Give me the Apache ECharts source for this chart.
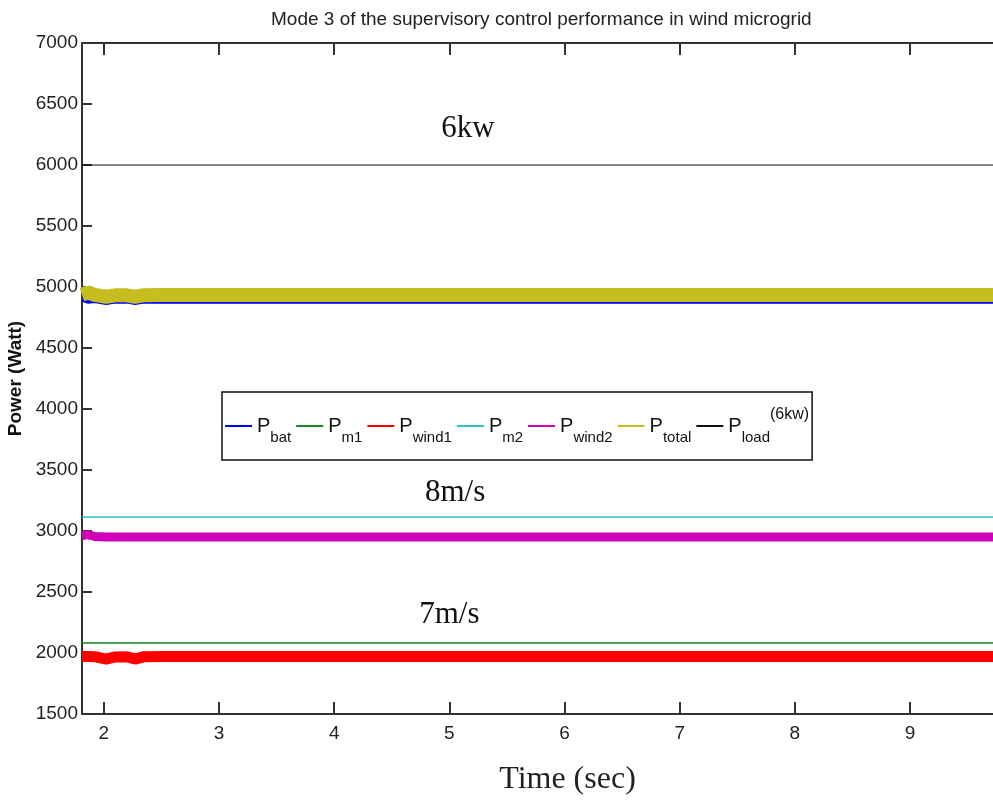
<!DOCTYPE html>
<html>
<head>
<meta charset="utf-8">
<script src="https://cdn.jsdelivr.net/npm/echarts@6/dist/echarts.min.js"></script>
<style>
  html, body { margin: 0; padding: 0; background: #fff; }
  #chart { width: 993px; height: 801px; }
</style>
</head>
<body>
<div id="chart"></div>
<script>
// Sample instants (s) at which each power trace is listed
const times = [1.81, 1.86, 1.92, 2.02, 2.1, 2.2, 2.27, 2.35, 2.5, 3, 4, 5, 6, 7, 8, 9, 9.72];

// Power traces (W)
const pBat   = [4895, 4880, 4885, 4868, 4880, 4880, 4868, 4880, 4880, 4880, 4880, 4880, 4880, 4880, 4880, 4880, 4880];
const pM1    = [2082, 2082, 2082, 2082, 2082, 2082, 2082, 2082, 2082, 2082, 2082, 2082, 2082, 2082, 2082, 2082, 2082];
const pWind1 = [1972, 1972, 1970, 1950, 1968, 1970, 1950, 1970, 1971, 1971, 1971, 1971, 1971, 1971, 1971, 1971, 1971];
const pM2    = [3115, 3115, 3115, 3115, 3115, 3115, 3115, 3115, 3115, 3115, 3115, 3115, 3115, 3115, 3115, 3115, 3115];
const pWind2 = [2962, 2970, 2955, 2950, 2950, 2950, 2950, 2950, 2950, 2950, 2950, 2950, 2950, 2950, 2950, 2950, 2950];
const pTotal = [4938, 4955, 4936, 4920, 4932, 4932, 4920, 4933, 4934, 4934, 4934, 4934, 4934, 4934, 4934, 4934, 4934];
const pLoad  = [6000, 6000, 6000, 6000, 6000, 6000, 6000, 6000, 6000, 6000, 6000, 6000, 6000, 6000, 6000, 6000, 6000];

// Axis ticks
const xTicks = [2, 3, 4, 5, 6, 7, 8, 9];
const yMin = 1500, yMax = 7000, yStep = 500;

// Text notes placed in data space: [time, power, text]
const notes = [
  [5.16, 6300, '6kw'],
  [5.05, 3310, '8m/s'],
  [5.0, 2310, '7m/s']
];

const seriesDefs = [
  { name: 'P_bat',   values: pBat,   color: '#0000FF', width: 4 },
  { name: 'P_m1',    values: pM1,    color: '#108A20', width: 1.5 },
  { name: 'P_wind1', values: pWind1, color: '#FF0000', width: 11 },
  { name: 'P_m2',    values: pM2,    color: '#2EC4C0', width: 1.5 },
  { name: 'P_wind2', values: pWind2, color: '#D000B8', width: 9 },
  { name: 'P_total', values: pTotal, color: '#C6BD1E', width: 14 },
  { name: 'P_load',  values: pLoad,  color: '#111111', width: 1.2 }
];

const legendText = {
  P_bat: '{p|P}{s|bat}',
  P_m1: '{p|P}{s|m1}',
  P_wind1: '{p|P}{s|wind1}',
  P_m2: '{p|P}{s|m2}',
  P_wind2: '{p|P}{s|wind2}',
  P_total: '{p|P}{s|total}',
  P_load: '{p|P}{s|load}{u|(6kw)}'
};

const sans = "'Liberation Sans', Arial, sans-serif";
const serif = "'Liberation Serif', 'Times New Roman', serif";

const series = seriesDefs.map(d => ({
  name: d.name,
  type: 'line',
  symbol: 'none',
  color: d.color,
  lineStyle: { color: d.color, width: d.width },
  data: times.map((t, i) => [t, d.values[i]]),
  animation: false
}));

// Annotation texts attached to the load trace as marker labels
series[6].markPoint = {
  symbol: 'circle',
  symbolSize: 0,
  silent: true,
  label: {
    show: true,
    position: 'inside',
    fontFamily: serif,
    fontSize: 31,
    color: '#111',
    formatter: p => p.name
  },
  data: notes.map(n => ({ name: n[2], coord: [n[0], n[1]] }))
};

const axisLine = { show: true, lineStyle: { color: '#333', width: 2 } };

const option = {
  backgroundColor: '#fff',
  animation: false,
  title: {
    text: 'Mode 3 of the supervisory control performance in wind microgrid',
    left: 266,
    top: 5,
    textStyle: { fontFamily: sans, fontSize: 19, fontWeight: 'normal', color: '#222' }
  },
  grid: { left: 82, right: 0, top: 43, bottom: 87, outerBoundsMode: 'none', containLabel: false },
  legend: {
    left: 222,
    top: 392,
    padding: [15, 3, 15, 3],
    itemGap: 5,
    itemWidth: 27,
    itemHeight: 2,
    icon: 'rect',
    backgroundColor: '#fff',
    borderColor: '#111',
    borderWidth: 1.5,
    borderRadius: 0,
    data: seriesDefs.map(d => d.name),
    formatter: name => legendText[name],
    textStyle: {
      color: '#111',
      rich: {
        p: { fontFamily: sans, fontSize: 20, lineHeight: 38, verticalAlign: 'middle', color: '#111' },
        s: { fontFamily: sans, fontSize: 15, lineHeight: 22, verticalAlign: 'bottom', color: '#111' },
        u: { fontFamily: sans, fontSize: 16, lineHeight: 32, verticalAlign: 'top', color: '#111' }
      }
    }
  },
  xAxis: [
    {
      type: 'value',
      position: 'bottom',
      min: 1.81,
      max: 9.72,
      name: 'Time (sec)',
      nameLocation: 'middle',
      nameGap: 50,
      nameTextStyle: { fontFamily: serif, fontSize: 32, color: '#222', padding: [0, 0, 0, 60] },
      axisLine: axisLine,
      axisTick: { show: true, inside: true, length: 12, customValues: xTicks, lineStyle: { color: '#333', width: 2 } },
      axisLabel: { show: true, customValues: xTicks, fontFamily: sans, fontSize: 19, color: '#222', margin: 10 },
      splitLine: { show: false }
    },
    {
      type: 'value',
      position: 'top',
      min: 1.81,
      max: 9.72,
      axisLine: axisLine,
      axisTick: { show: true, inside: true, length: 12, customValues: xTicks, lineStyle: { color: '#333', width: 2 } },
      axisLabel: { show: false },
      splitLine: { show: false }
    }
  ],
  yAxis: {
    type: 'value',
    min: yMin,
    max: yMax,
    interval: yStep,
    name: 'Power (Watt)',
    nameLocation: 'middle',
    nameGap: 52,
    nameTextStyle: { fontFamily: sans, fontSize: 19, fontWeight: 'bold', color: '#111' },
    axisLine: axisLine,
    axisTick: { show: true, inside: true, length: 10, lineStyle: { color: '#333', width: 2 } },
    axisLabel: { fontFamily: sans, fontSize: 19, color: '#222', margin: 4, formatter: v => String(v) },
    splitLine: { show: false }
  },
  series: series
};

const chart = echarts.init(document.getElementById('chart'), null, { renderer: 'canvas' });
chart.setOption(option);
</script>
</body>
</html>
